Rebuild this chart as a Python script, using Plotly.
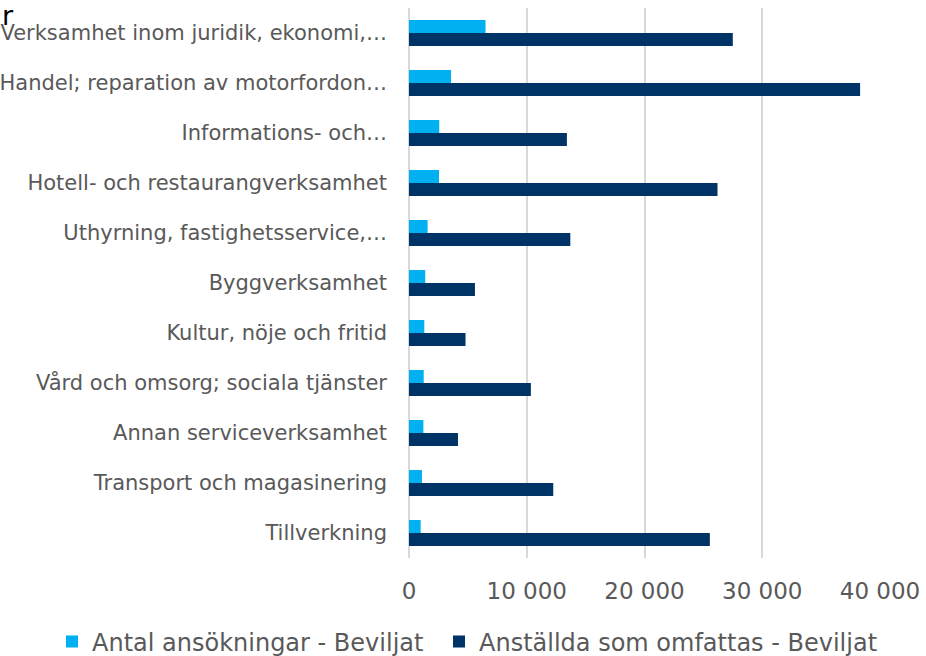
import plotly.graph_objects as go

categories = [
    "Verksamhet inom juridik, ekonomi,…",
    "Handel; reparation av motorfordon…",
    "Informations- och…",
    "Hotell- och restaurangverksamhet",
    "Uthyrning, fastighetsservice,…",
    "Byggverksamhet",
    "Kultur, nöje och fritid",
    "Vård och omsorg; sociala tjänster",
    "Annan serviceverksamhet",
    "Transport och magasinering",
    "Tillverkning",
]
antal_ansokningar = [6500, 3570, 2570, 2550, 1580, 1380, 1300, 1250, 1220, 1100, 990]
anstallda = [27500, 38310, 13410, 26200, 13700, 5600, 4800, 10350, 4160, 12250, 25550]
x_ticks = [0, 10000, 20000, 30000, 40000]

series_names = ["Antal ansökningar - Beviljat", "Anställda som omfattas - Beviljat"]
colors = ["#00B0F0", "#003366"]

FONT = "Verdana, DejaVu Sans, sans-serif"
GRID = "#D9D9D9"
TXT = "#595959"

fig = go.Figure()
for i, (name, vals, col) in enumerate(zip(series_names, [antal_ansokningar, anstallda], colors)):
    fig.add_trace(go.Bar(
        y=categories, x=vals, name=name, orientation="h",
        marker=dict(color=col, line=dict(width=0)),
        legend="legend" if i == 0 else "legend2",
        hoverinfo="skip",
    ))

leg_common = dict(
    orientation="h", xref="container", yref="container",
    xanchor="left", yanchor="middle", y=1 - 642 / 656,
    font=dict(size=24, color=TXT, family=FONT),
    bgcolor="rgba(0,0,0,0)", borderwidth=0,
)

fig.update_layout(
    width=926, height=656,
    margin=dict(l=409, r=46, t=8, b=98, autoexpand=False),
    plot_bgcolor="white", paper_bgcolor="white",
    barmode="group", bargap=0.48, bargroupgap=0,
    separators=", ",
    font=dict(family=FONT, color=TXT),
    showlegend=True,
    legend=dict(x=52 / 926, **leg_common),
    legend2=dict(x=439 / 926, **leg_common),
    xaxis=dict(
        range=[0, 40000], tickvals=x_ticks, tickformat=",d", automargin=False,
        showgrid=True, gridcolor=GRID, gridwidth=2,
        zeroline=True, zerolinecolor=GRID, zerolinewidth=2,
        showline=False, ticks="",
        tickfont=dict(size=23, color=TXT, family=FONT),
        ticklabelstandoff=17,
    ),
    yaxis=dict(
        autorange="reversed", showgrid=False, zeroline=False, showline=False,
        automargin=False,
        ticks="", tickfont=dict(size=21, color=TXT, family=FONT),
        ticklabelstandoff=21,
    ),
    annotations=[dict(
        text="r", xref="paper", yref="paper", x=(0 - 409) / 471, y=1 - (16 - 8) / 550,
        xanchor="left", yanchor="middle", showarrow=False,
        font=dict(size=27, color="#000000", family=FONT),
    )],
)

fig.write_html(
    "out.html",
    config={"displayModeBar": False},
    post_script="document.body.style.margin='0';document.body.style.overflow='hidden';",
)
